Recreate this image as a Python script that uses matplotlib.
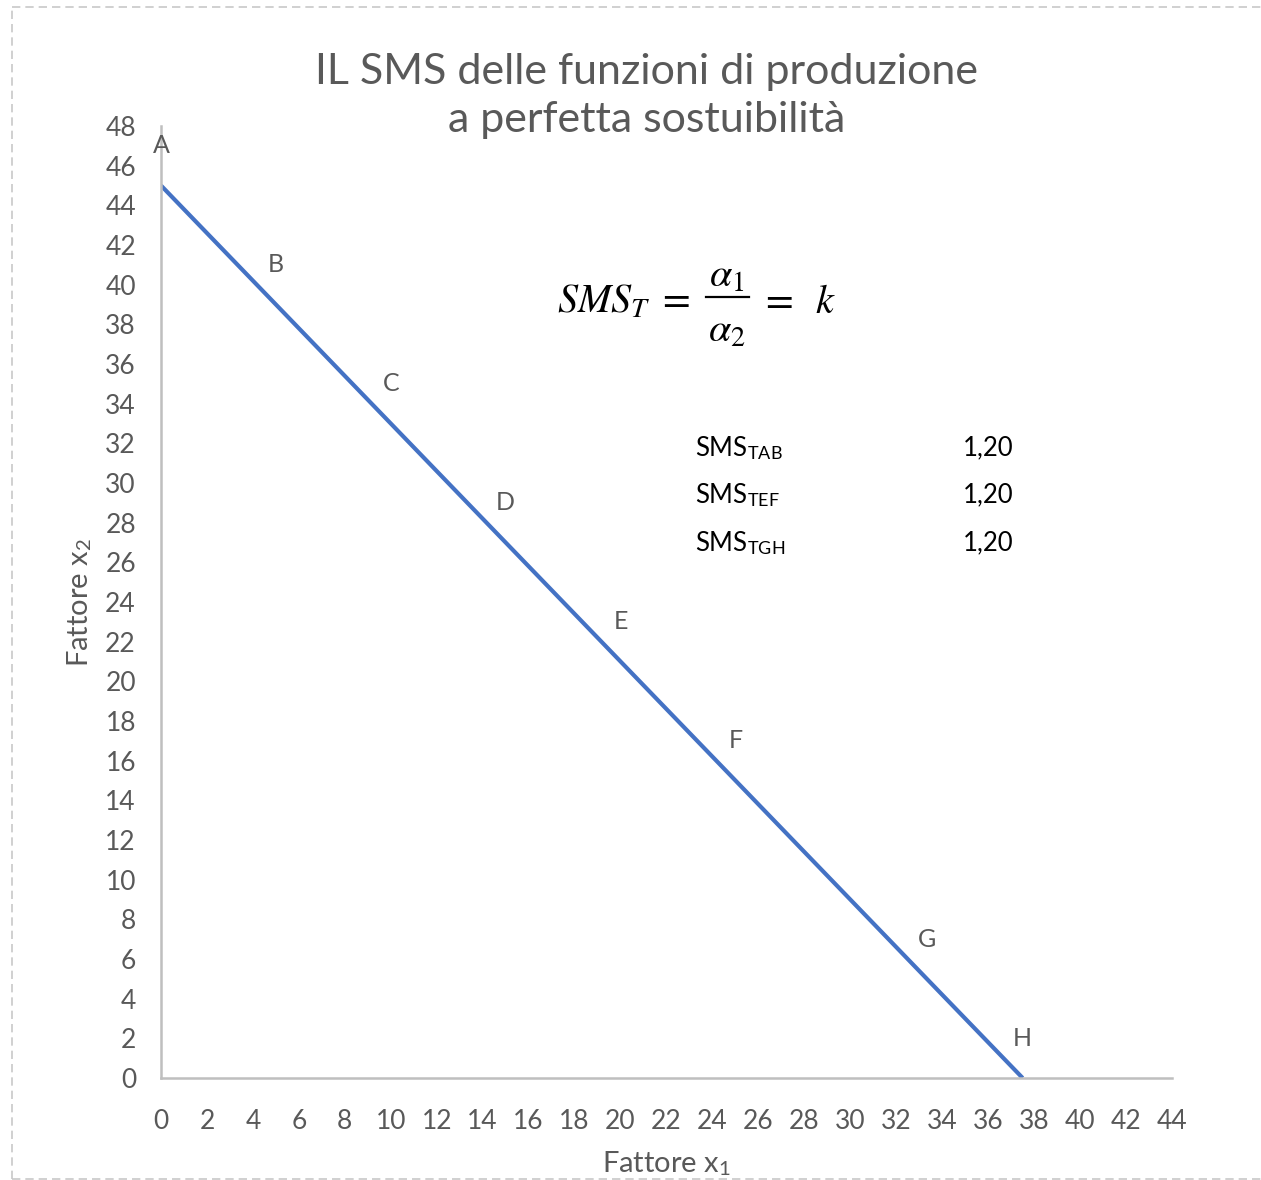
"""
    Isoquanta con perfetta sostituibilita' dei fattori:
    SMS costante lungo la retta.
"""
import matplotlib.pyplot as plt
from matplotlib.lines import Line2D

plt.rcParams["font.family"] = ["Lato", "DejaVu Sans"]
plt.rcParams["mathtext.fontset"] = "stix"

# punti della funzione di produzione
x1 = [0, 5, 10, 15, 20, 25, 33.33, 37.5]
x2 = [45, 39, 33, 27, 21, 15, 5, 0]
point_labels = ["A", "B", "C", "D", "E", "F", "G", "H"]

# tabella degli SMS
sms_names = ["TAB", "TEF", "TGH"]
sms_values = ["1,20", "1,20", "1,20"]

grey = "#595959"
line_col = "#4472C4"
W, H = 1261, 1180


def px(x, y):
    # coordinate in pixel (origine in alto a sinistra) -> frazione di figura
    return x / W, 1 - y / H


fig = plt.figure(figsize=(W / 100, H / 100), dpi=100)
ax = fig.add_axes([161/W, 1 - 1078/H, (1172-161)/W, (1078-126)/H])

ax.plot(x1, x2, color=line_col, linewidth=3, solid_capstyle="butt")

# etichette sopra ai punti
for xx, yy, lab in zip(x1, x2, point_labels):
    ax.annotate(lab, (xx, yy), xytext=(0, 28.5), textcoords="offset points",
                ha="center", va="center", fontsize=18, color=grey)

ax.set_xlim(0, 44)
ax.set_ylim(0, 48)
ax.set_xticks(range(0, 45, 2))
ax.set_yticks(range(0, 49, 2))
ax.tick_params(length=0, labelsize=19, labelcolor=grey)
ax.tick_params(axis="x", pad=22)
ax.tick_params(axis="y", pad=18)

for s in ["top", "right"]:
    ax.spines[s].set_visible(False)
for s in ["left", "bottom"]:
    ax.spines[s].set_color("#bfbfbf")
    ax.spines[s].set_linewidth(1.8)

ax.set_xlabel("Fattore x$_{\\mathregular{1}}$", fontsize=21, color=grey, labelpad=11)
ax.set_ylabel("Fattore x$_{\\mathregular{2}}$", fontsize=21, color=grey, labelpad=8)

fig.text(*px(647, 96), "IL SMS delle funzioni di produzione\na perfetta sostuibilità",
         ha="center", va="center", fontsize=31, color=grey, linespacing=1.3)

# formula SMS_T = alpha1/alpha2 = k
fs = 29
fig.text(*px(557, 313), r"$SMS_T\;=$", ha="left", va="baseline", fontsize=fs)
fig.text(*px(727, 287), r"$\alpha_1$", ha="center", va="baseline", fontsize=fs)
fig.text(*px(727, 342), r"$\alpha_2$", ha="center", va="baseline", fontsize=fs)
fig.add_artist(Line2D([706/W, 749/W], [1 - 297/H, 1 - 297/H], color="black", linewidth=1.6))
fig.text(*px(760, 313), r"$=\;\;k$", ha="left", va="baseline", fontsize=fs)

# tabella
row_y = [448, 495, 543]
for name, val, yy in zip(sms_names, sms_values, row_y):
    fig.text(*px(695, yy), "SMS$_{\\mathregular{" + name + "}}$",
             ha="left", va="center", fontsize=18.5, color="black")
    fig.text(*px(1013, yy), val, ha="right", va="center",
             fontsize=18.5, color="black")

# bordo tratteggiato
dash = dict(color="#c8c8c8", linewidth=1.2, linestyle=(0, (5, 3)))
fig.add_artist(Line2D([12/W, 1], [1 - 7/H, 1 - 7/H], **dash))
fig.add_artist(Line2D([12/W, 12/W], [1/H, 1 - 7/H], **dash))
fig.add_artist(Line2D([12/W, 1], [1/H, 1/H], **dash))

plt.savefig("out.png", dpi=100)
